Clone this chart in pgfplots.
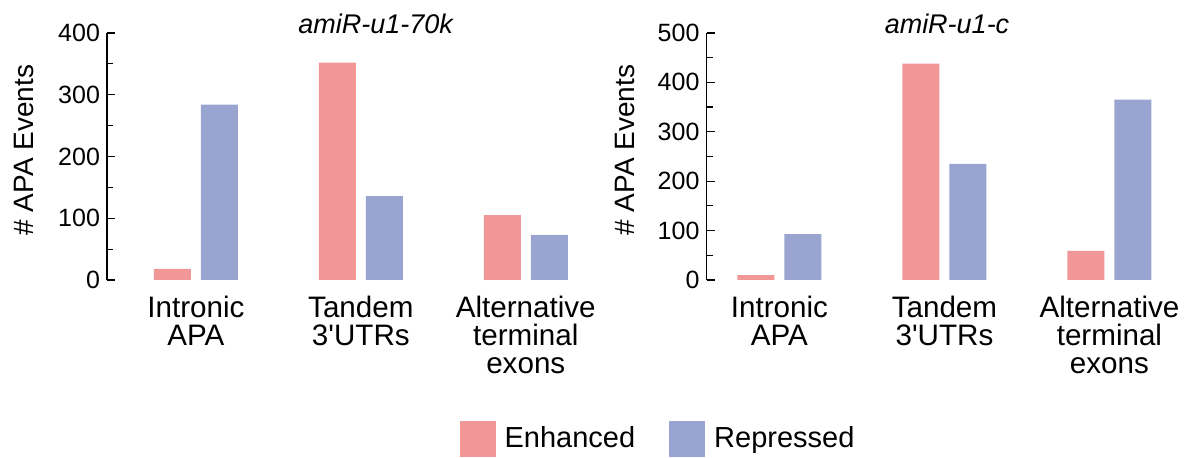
\documentclass[border=0pt]{standalone}
\usepackage{fontspec}
\setmainfont{Liberation Sans}[Ligatures=TeXOff]
\usepackage{pgfplots}
\pgfplotsset{compat=1.18}
\definecolor{enh}{RGB}{242,151,151}
\definecolor{rep}{RGB}{154,164,208}

\pgfplotsset{
  apa/.style={
    scale only axis,
    ybar,
    bar width=18.5pt,
    height=123.5pt,
    ymin=0,
    axis y line*=left,
    axis x line*=bottom,
    x axis line style={draw=none},
    xtick={0,1,2},
    xticklabels={{Intronic\\APA},{Tandem\\3'UTRs},{Alternative\\terminal\\exons}},
    xtick style={draw=none},
    xticklabel style={align=center, font=\fontsize{14.8}{13.9}\selectfont, yshift=-4.5pt},
    yticklabel style={font=\fontsize{12.5}{13}\selectfont},
    /pgf/number format/assume math mode=true,
    tick align=inside,
    ytick style={black, line width=0.6pt},
    major tick length=4pt, minor tick length=3pt,
    minor y tick num=1,
    ylabel={\# APA Events},
    ylabel style={font=\fontsize{14}{15}\selectfont, anchor=base, at={(axis description cs:-0.150,0.526)}},
    every axis title shift=0pt,
    title style={font=\fontsize{13.5}{14}\selectfont\itshape, anchor=base},
    y axis line style={line width=0.6pt},
  }
}

\begin{document}
\begin{tikzpicture}
\begin{axis}[apa,
  at={(53.5pt,89pt)}, anchor=south west,
  width=246.5pt,
  xmin=-0.539, xmax=2.45,
  ymax=400, ytick={0,100,...,400},
  title={amiR-u1-70k},
  title style={at={(axis description cs:0.545,0.996)}},
  legend columns=2,
  legend style={at={(axis description cs:1.1197,-0.6425)}, anchor=center, draw=none,
    font=\fontsize{14.5}{15}\selectfont,
    /tikz/every odd column/.append style={column sep=2.5pt},
    /tikz/every even column/.append style={column sep=15pt}},
  legend image code/.code={\fill[#1] (0pt,-9pt) rectangle (18pt,9pt);},
]
\addplot[fill=enh, draw=none, bar shift=-11.75pt] coordinates {(0,18) (1,352) (2,105)};
\addplot[fill=rep, draw=none, bar shift=11.75pt] coordinates {(0,284) (1,136) (2,73)};
\legend{Enhanced,Repressed}
\end{axis}

\begin{axis}[apa,
  at={(353.25pt,89pt)}, anchor=south west,
  width=238.6pt,
  xmin=-0.442, xmax=2.45,
  ymax=500, ytick={0,100,...,500},
  title={amiR-u1-c},
  title style={at={(axis description cs:0.504,0.996)}},
]
\addplot[fill=enh, draw=none, bar shift=-11.75pt] coordinates {(0,10) (1,438) (2,59)};
\addplot[fill=rep, draw=none, bar shift=11.75pt] coordinates {(0,93) (1,235) (2,365)};
\end{axis}
\pgfresetboundingbox
\path (0,0) rectangle (595pt,229pt);
\end{tikzpicture}
\end{document}
